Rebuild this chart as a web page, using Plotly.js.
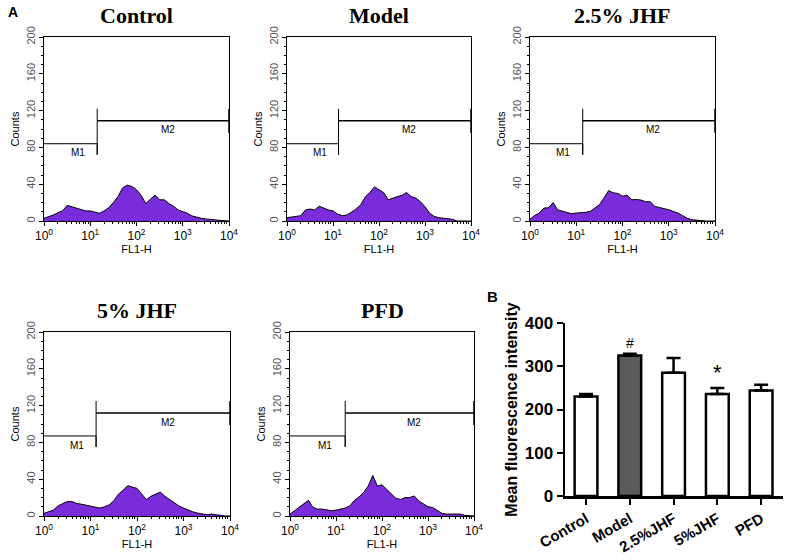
<!DOCTYPE html>
<html><head><meta charset="utf-8">
<script src="https://cdn.plot.ly/plotly-3.0.1.min.js"></script>
<style>html,body{margin:0;padding:0;background:#fff}#chart{width:797px;height:560px}</style>
</head><body><div id="chart"></div>
<script>
// ---- Data: flow cytometry histograms (log10 of FL1-H, counts) ----
const logFL = [0,0.1,0.2,0.3,0.4,0.5,0.6,0.7,0.8,0.9,1.0,1.1,1.2,1.3,1.4,1.5,1.6,1.7,1.8,1.9,2.0,2.1,2.2,2.3,2.4,2.5,2.6,2.7,2.8,2.9,3.0,3.1,3.2,3.3,3.4,3.5,3.6,3.7,3.8,3.9,4.0];
const controlCounts = [3,4.7,6.5,9,11,17,15.6,14.5,13,11,11,9.5,8.4,11,14.5,20,26.5,36,39,37.5,34,28,19,23.6,28,23,23,19,16,12,10,8.4,5.5,4,3,2.2,1.5,1.1,0.7,0.4,0];
const modelCounts = [3.6,4.7,5,5.8,12,13,12,16,14,12,11,7.6,5.8,6.5,9.5,13,17.5,26,31,37,34,31,23,25,26.5,28,31,26.5,25,21,15.6,8.4,5,3.6,2.9,2.2,1.8,0,0,0,0];
const jhf25Counts = [2,6,8.6,14,14.4,20,12,10.4,9.4,8,8.6,8.6,9.4,10.4,14,17.6,25,33,30.6,30,27,28,23,23.4,22.7,21,21,15.8,14.7,13.7,12.2,10.4,8.6,5.8,2.9,1.4,0.7,0,0,0,0];
const jhf5Counts = [2.9,4.6,6.4,11,13.6,15.7,15.7,13.6,12.9,11.8,11,9.3,8.6,10,12,16.4,23.6,27.9,33,31.4,30,24,18,21.4,23.6,26,21.4,18,14.6,11,8.6,6.4,4.6,3.2,2.1,1.4,2.1,1.4,0.4,0,0];
const pfdCounts = [2,5.7,9.3,14,17,9.3,7.5,7.5,6.4,5.7,6.4,7.5,8.6,11,17,20.7,25.4,32.5,44,32.5,34,29,23.6,19.3,18,20,20,21.8,16.4,12.9,10,9.3,6.4,2.9,2.1,2.1,1.4,2.1,0.7,0.4,0];
const panelTitles = ["Control","Model","2.5% JHF","5% JHF","PFD"];
const gateSplit = [1.15,1.12,1.14,1.12,1.2];   // log10 position of M1/M2 boundary
const m1Level = [84,84,84,87,87];
const m2Level = [109,109,109,112,112];
const yTicks = [0,40,80,120,160,200];
const xTickVals = [1,10,100,1000,10000];
const xTickText = ["10<sup>0</sup>","10<sup>1</sup>","10<sup>2</sup>","10<sup>3</sup>","10<sup>4</sup>"];

// ---- Data: bar chart B ----
const groups = ["Control","Model","2.5%JHF","5%JHF","PFD"];
const mfi = [230,325,285,236,244];
const mfiErr = [6,4,34,14,13];
const sigMarks = ["","#","","*",""];

// ---- Layout geometry (pixels) ----
const W = 797, H = 560;
const panelPx = [
  {x0:44, x1:229, y0:37, y1:221},
  {x0:287, x1:471, y0:37, y1:221},
  {x0:530, x1:715, y0:37, y1:221},
  {x0:44, x1:230, y0:332, y1:516},
  {x0:290, x1:474, y0:332, y1:516}
];
const countsList = [controlCounts, modelCounts, jhf25Counts, jhf5Counts, pfdCounts];
const purple = "#7A2CDB";
const fontSans = "Liberation Sans, Arial, sans-serif";
const fontSerif = "Liberation Serif, Times New Roman, serif";

const minorLog = [];
for (let k=0;k<4;k++) for (let d=2; d<=9; d++) minorLog.push(d*Math.pow(10,k));

const traces = [];
const layout = {
  width: W, height: H, margin:{l:0,r:0,t:0,b:0},
  paper_bgcolor:"#fff", plot_bgcolor:"#fff", showlegend:false,
  annotations: [], font:{family:fontSans, color:"#000"}
};

panelPx.forEach((p, i) => {
  const n = i+1;
  const xa = "x"+(n===1?"":n), ya = "y"+(n===1?"":n);
  const xk = "xaxis"+(n===1?"":n), yk = "yaxis"+(n===1?"":n);
  traces.push({
    type:"scatter", mode:"lines", xaxis:xa, yaxis:ya,
    x: logFL.map(v=>Math.pow(10,v)), y: countsList[i],
    fill:"tozeroy", fillcolor:purple, line:{color:"#000", width:1}, hoverinfo:"skip"
  });
  const s = Math.pow(10, gateSplit[i]);
  traces.push({type:"scatter", mode:"lines", xaxis:xa, yaxis:ya,
    x:[1, s, s, s], y:[m1Level[i], m1Level[i], m1Level[i]-12, m2Level[i]+13],
    line:{color:"#000", width:1}, hoverinfo:"skip"});
  traces.push({type:"scatter", mode:"lines", xaxis:xa, yaxis:ya,
    x:[s, 10000, 10000, 10000], y:[m2Level[i], m2Level[i], m2Level[i]-13, m2Level[i]+13],
    line:{color:"#000", width:1.5}, hoverinfo:"skip"});
  layout[xk] = {
    type:"log", range:[0,4], domain:[p.x0/W, p.x1/W], anchor:ya,
    showline:true, linecolor:"#000", linewidth:1, mirror:true,
    tickmode:"array", tickvals:xTickVals, ticktext:xTickText,
    ticks:"outside", ticklen:4, tickcolor:"#000", showgrid:false, zeroline:false,
    minor:{tickmode:"array", tickvals:minorLog, ticks:"outside", ticklen:2, tickcolor:"#000", showgrid:false},
    tickfont:{size:12, family:fontSans, color:"#000"},
    title:{text:"FL1-H", font:{size:11, family:fontSans, color:"#000"}, standoff:0}
  };
  layout[yk] = {
    range:[0,200], domain:[1-p.y1/H, 1-p.y0/H], anchor:xa,
    showline:true, linecolor:"#000", linewidth:1, mirror:true,
    tickmode:"array", tickvals:yTicks, tickangle:-90,
    ticks:"outside", ticklen:4, tickcolor:"#000", showgrid:false, zeroline:false,
    minor:{dtick:10, ticks:"outside", ticklen:2, tickcolor:"#000", showgrid:false},
    tickfont:{size:11, family:fontSans, color:"#555"},
    title:{text:"Counts", font:{size:11, family:fontSans, color:"#000"}, standoff:2}
  };
  layout.annotations.push({xref:"paper", yref:"paper", x:(p.x0+p.x1)/2/W, y:1-(p.y0-22)/H,
    text:"<b>"+panelTitles[i]+"</b>", showarrow:false, xanchor:"center", yanchor:"middle",
    font:{family:fontSerif, size:22, color:"#000"}});
  layout.annotations.push({xref:xa, yref:ya, x:gateSplit[i]/2+0.15, y:m1Level[i]-10,
    text:"M1", showarrow:false, xanchor:"center", font:{size:10, family:fontSans, color:"#000"}});
  layout.annotations.push({xref:xa, yref:ya, x:(gateSplit[i]+4)/2+0.1, y:m2Level[i]-10,
    text:"M2", showarrow:false, xanchor:"center", font:{size:10, family:fontSans, color:"#000"}});
});

// Bar chart B
const bx0 = 565, bx1 = 783, by0 = 323, by1 = 496;
traces.push({
  type:"bar", xaxis:"x6", yaxis:"y6", x:groups, y:mfi, width:0.52,
  marker:{color:groups.map((g,i)=> i===1 ? "#5a5a5a" : "#fff"), line:{color:"#000", width:2.5}},
  error_y:{type:"data", symmetric:false, array:mfiErr, arrayminus:mfiErr.map(()=>0),
    color:"#000", thickness:2.5, width:7},
  hoverinfo:"skip"
});
layout.xaxis6 = {
  domain:[bx0/W, bx1/W], anchor:"y6", range:[-0.48,4.5],
  showline:true, linecolor:"#000", linewidth:2.5, ticks:"outside", ticklen:6, tickwidth:2, tickcolor:"#000",
  tickangle:-30, tickfont:{size:15, family:fontSans, color:"#000", weight:"bold"}, showgrid:false, zeroline:false
};
layout.yaxis6 = {
  domain:[1-by1/H, 1-by0/H], anchor:"x6", range:[0,400],
  tickvals:[0,100,200,300,400],
  showline:true, linecolor:"#000", linewidth:2.5, ticks:"outside", ticklen:6, tickwidth:2, tickcolor:"#000",
  tickfont:{size:17, family:fontSans, color:"#000", weight:"bold"}, showgrid:false, zeroline:false,
  title:{text:"<b>Mean fluorescence intensity</b>", font:{size:16, family:fontSans, color:"#000"}, standoff:3}
};
groups.forEach((g,i)=>{
  if (sigMarks[i]) layout.annotations.push({xref:"x6", yref:"y6", x:g, y:mfi[i]+mfiErr[i], yanchor:"bottom",
    xanchor:"center", yshift:1, text:sigMarks[i], showarrow:false,
    font:{size: sigMarks[i]==="*" ? 22 : 14, family:fontSans, color:"#000"}});
});

layout.annotations.push({xref:"paper", yref:"paper", x:6/W, y:1-12/H, xanchor:"left", yanchor:"middle",
  text:"<b>A</b>", showarrow:false, font:{size:14, family:fontSans, color:"#000"}});
layout.annotations.push({xref:"paper", yref:"paper", x:485/W, y:1-296/H, xanchor:"left", yanchor:"middle",
  text:"<b>B</b>", showarrow:false, font:{size:15, family:fontSans, color:"#000"}});

Plotly.newPlot("chart", traces, layout, {staticPlot:true, displayModeBar:false});
</script></body></html>
